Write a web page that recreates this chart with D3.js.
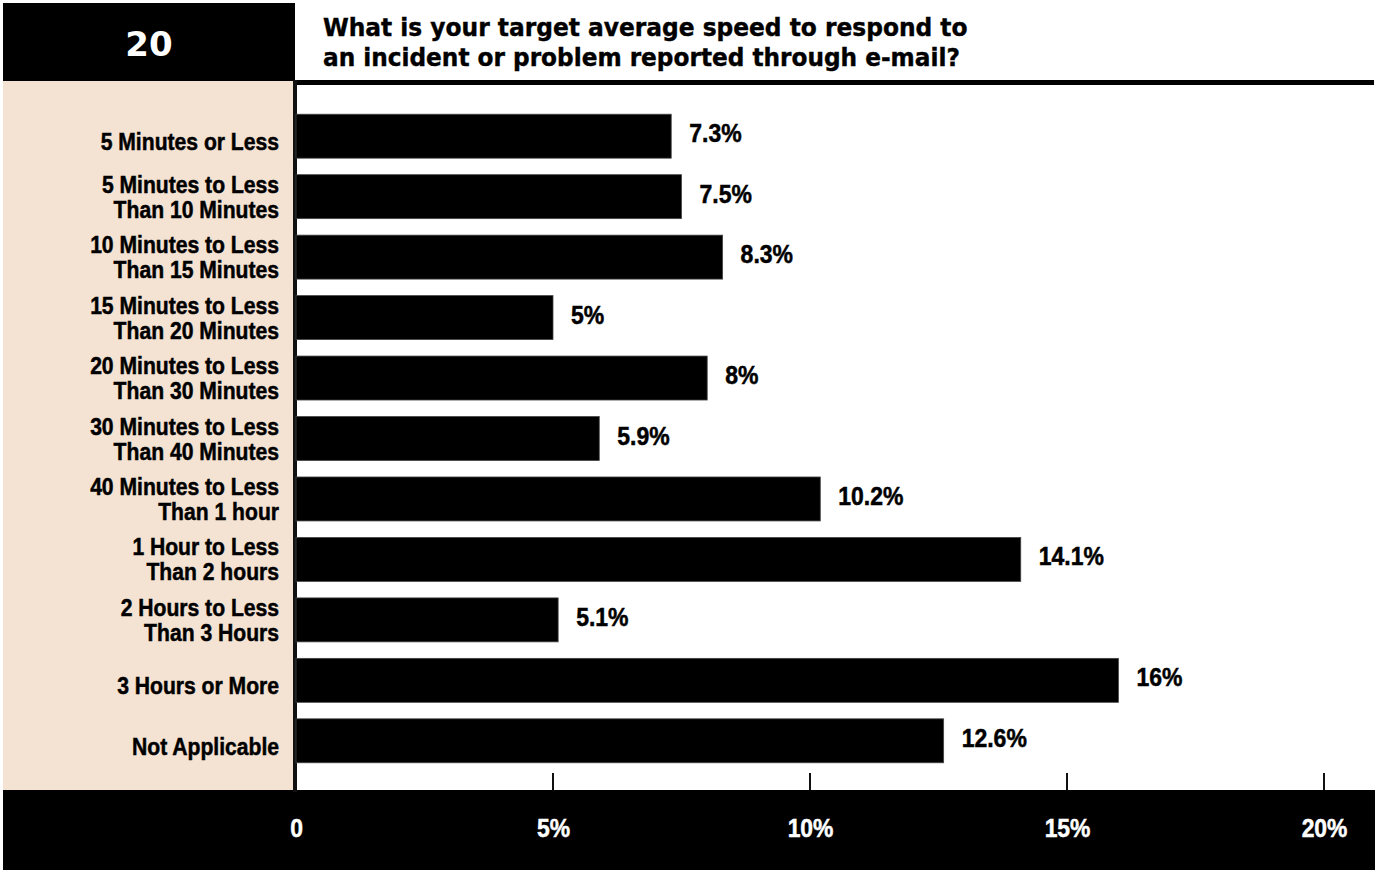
<!DOCTYPE html>
<html>
<head>
<meta charset="utf-8">
<script src="https://cdn.jsdelivr.net/npm/d3@7"></script>
<style>
  html, body { margin: 0; padding: 0; background: #fff; }
  svg { display: block; }
  .cond { font-family: "Liberation Sans", Arial, sans-serif; font-weight: 700; stroke-width: 0.5px; }
  .geo { font-family: "DejaVu Sans", sans-serif; font-weight: 700; }
</style>
</head>
<body>
<script>
// Survey question number and text
const questionNumber = "20";
const titleLines = [
  "What is your target average speed to respond to",
  "an incident or problem reported through e-mail?"
];

// Response categories (line breaks as shown beside each bar)
const categories = [
  "5 Minutes or Less",
  "5 Minutes to Less\nThan 10 Minutes",
  "10 Minutes to Less\nThan 15 Minutes",
  "15 Minutes to Less\nThan 20 Minutes",
  "20 Minutes to Less\nThan 30 Minutes",
  "30 Minutes to Less\nThan 40 Minutes",
  "40 Minutes to Less\nThan 1 hour",
  "1 Hour to Less\nThan 2 hours",
  "2 Hours to Less\nThan 3 Hours",
  "3 Hours or More",
  "Not Applicable"
];

// Share of respondents, percent
const values = [7.3, 7.5, 8.3, 5, 8, 5.9, 10.2, 14.1, 5.1, 16, 12.6];

// Axis ticks
const tickValues = [0, 5, 10, 15, 20];
const tickLabels = ["0", "5%", "10%", "15%", "20%"];

const W = 1378, H = 871;
const beige = "#f4e3d3";
const narrow = 0.88;   // horizontal squeeze for the condensed label face

const svg = d3.select("body").append("svg")
  .attr("width", W).attr("height", H);

// Scales
const x = d3.scaleLinear().domain([0, 20]).range([296, 1324]);
const y = d3.scaleBand().domain(categories)
  .range([106, 771]).paddingInner(0.273).paddingOuter(0.136);

// Left label panel
svg.append("rect").attr("x", 3).attr("y", 80).attr("width", 291).attr("height", 712)
  .attr("fill", beige);

// Question number block
svg.append("rect").attr("x", 3).attr("y", 3).attr("width", 292).attr("height", 78)
  .attr("fill", "#000");
svg.append("text").attr("class", "geo")
  .attr("x", 149).attr("y", 56).attr("text-anchor", "middle")
  .attr("font-size", 34).attr("fill", "#fff")
  .text(questionNumber);

// Title, squeezed to the width of the heading block
const titleG = svg.append("g");
titleLines.forEach((line, i) => {
  const t = titleG.append("text").attr("class", "geo")
    .attr("font-size", 24).attr("fill", "#000")
    .attr("stroke", "#000").attr("stroke-width", 0.4).text(line);
  const len = t.node().getComputedTextLength();
  const target = i === 0 ? 645 : 637;
  t.attr("transform", `translate(323,${36 + i * 30}) scale(${target / len},1)`);
});

// Rule under the title
svg.append("rect").attr("x", 295).attr("y", 80).attr("width", 1079).attr("height", 5)
  .attr("fill", "#000");

// Bottom axis band
svg.append("rect").attr("x", 3).attr("y", 790).attr("width", 1372).attr("height", 80)
  .attr("fill", "#000");

// Vertical baseline of the plot
svg.append("rect").attr("x", 293).attr("y", 80).attr("width", 4).attr("height", 712)
  .attr("fill", "#111");

// Bars
svg.append("g").selectAll("rect").data(values).join("rect")
  .attr("x", x(0))
  .attr("y", (d, i) => y(categories[i]))
  .attr("width", d => x(d) - x(0))
  .attr("height", y.bandwidth())
  .attr("fill", "#000")
  .attr("stroke", "#444").attr("stroke-width", 0.8);

// Value labels
svg.append("g").selectAll("text").data(values).join("text")
  .attr("class", "cond")
  .attr("transform", (d, i) =>
    `translate(${x(d) + 18},${y(categories[i]) + y.bandwidth() / 2 + 6}) scale(0.92,1)`)
  .attr("font-size", 25).attr("fill", "#000").attr("stroke", "#000")
  .text(d => d + "%");

// Category labels
const catG = svg.append("g").attr("class", "cond").attr("font-size", 24)
  .attr("text-anchor", "end").attr("fill", "#000").attr("stroke", "#000");
categories.forEach(c => {
  const lines = c.split("\n");
  const cy = y(c) + y.bandwidth() / 2;
  const t = catG.append("text")
    .attr("transform", `translate(279,${cy}) scale(${narrow},1)`);
  if (lines.length === 1) {
    t.attr("y", 14).text(lines[0]);
  } else {
    lines.forEach((l, i) => {
      t.append("tspan").attr("x", 0).attr("y", -4 + i * 25).text(l);
    });
  }
});

// X axis labels inside the band
const axis = d3.axisBottom(x).tickValues(tickValues).tickSize(0).tickFormat((d, i) => tickLabels[i]);
const axG = svg.append("g").attr("transform", "translate(0,837)").call(axis);
axG.select(".domain").remove();
axG.selectAll("text").attr("class", "cond").attr("font-size", 26)
  .attr("fill", "#fff").attr("stroke", "#fff").attr("dy", 0).attr("y", 0)
  .attr("transform", `scale(${narrow},1)`);

// Tick marks standing on the band
svg.append("g").selectAll("line").data(tickValues.slice(1)).join("line")
  .attr("x1", d => x(d)).attr("x2", d => x(d))
  .attr("y1", 773).attr("y2", 790)
  .attr("stroke", "#111").attr("stroke-width", 2);
</script>
</body>
</html>
